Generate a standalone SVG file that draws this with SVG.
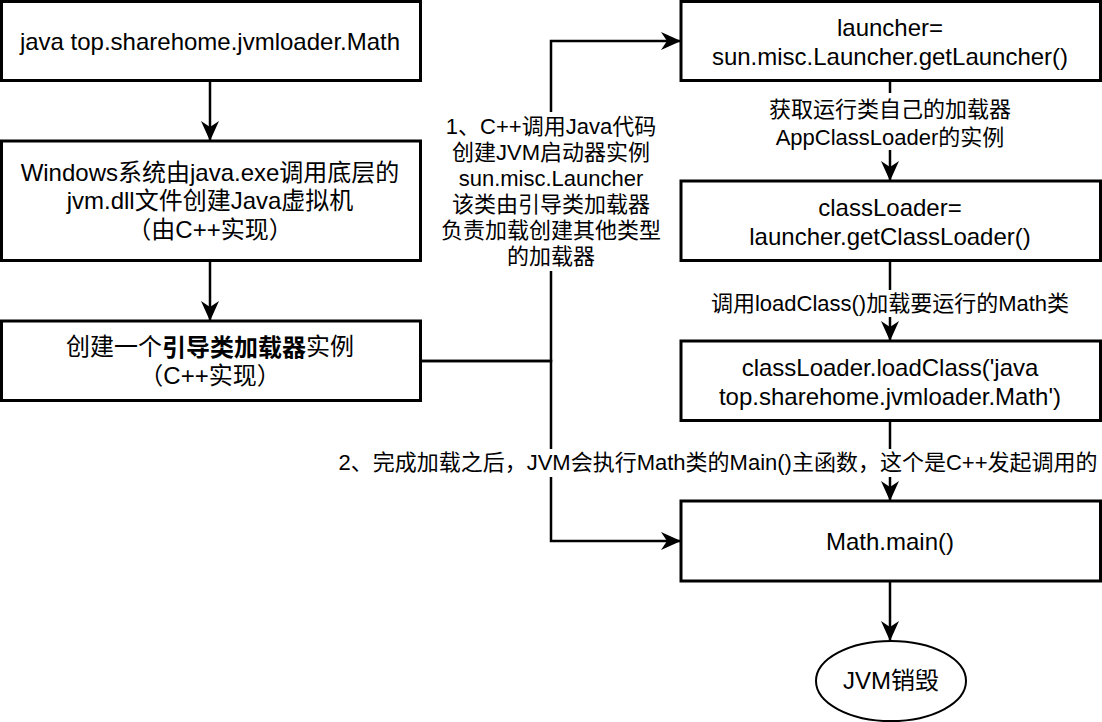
<svg xmlns="http://www.w3.org/2000/svg" width="1102" height="722" viewBox="0 0 1102 722">
<style>
  .box { fill: #ffffff; stroke: #000000; stroke-width: 3; }
  .ell { fill: #ffffff; stroke: #000000; stroke-width: 2; }
  .edge { fill: none; stroke: #000000; stroke-width: 2.5; }
  .t { font-family: "Liberation Sans", Arial, "Noto Sans CJK SC", sans-serif; font-size: 24px; fill: #000000; text-anchor: middle; dominant-baseline: central; }
  .lbl { font-family: "Liberation Sans", Arial, "Noto Sans CJK SC", sans-serif; font-size: 22px; fill: #000000; text-anchor: middle; dominant-baseline: central; }
  .bg { fill: #ffffff; stroke: none; }
  .b { font-weight: bold; }
</style>
<defs>
  <marker id="arr" viewBox="0 0 20 20" markerWidth="20" markerHeight="20" markerUnits="userSpaceOnUse" refX="19" refY="10" orient="auto">
    <path d="M0,1 L20,10 L0,19 L6,10 Z" fill="#000000"/>
  </marker>
</defs>
<rect width="1102" height="722" fill="#ffffff"/>

<g id="connectors">
  <path class="edge" d="M210,80.5 V140" marker-end="url(#arr)"/>
  <path class="edge" d="M210,260.5 V320" marker-end="url(#arr)"/>
  <path class="edge" d="M420.5,361 H551 V41 H680" marker-end="url(#arr)"/>
  <path class="edge" d="M420.5,361 H551 V541 H680" marker-end="url(#arr)"/>
  <path class="edge" d="M890,80.5 V180" marker-end="url(#arr)"/>
  <path class="edge" d="M890,260.5 V340" marker-end="url(#arr)"/>
  <path class="edge" d="M890,420.5 V500" marker-end="url(#arr)"/>
  <path class="edge" d="M890,581 V640" marker-end="url(#arr)"/>

  <g id="label-1">
    <rect class="bg" x="444" y="112" width="214" height="159"/>
    <text class="lbl" x="551" y="126">1、C++调用Java代码</text>
    <text class="lbl" x="551" y="152">创建JVM启动器实例</text>
    <text class="lbl" x="551" y="178">sun.misc.Launcher</text>
    <text class="lbl" x="551" y="204">该类由引导类加载器</text>
    <text class="lbl" x="551" y="230">负责加载创建其他类型</text>
    <text class="lbl" x="551" y="256">的加载器</text>
  </g>
  <g id="label-app">
    <rect class="bg" x="770" y="93" width="240" height="57"/>
    <text class="lbl" x="890" y="109">获取运行类自己的加载器</text>
    <text class="lbl" x="890" y="137">AppClassLoader的实例</text>
  </g>
  <g id="label-load">
    <rect class="bg" x="710" y="290" width="365" height="27"/>
    <text class="lbl" x="890" y="303">调用loadClass()加载要运行的Math类</text>
  </g>
  <g id="label-2">
    <rect class="bg" x="335" y="449" width="767" height="28"/>
    <text class="lbl" x="718" y="462">2、完成加载之后，JVM会执行Math类的Main()主函数，这个是C++发起调用的</text>
  </g>
</g>

<g id="node-cmd">
  <rect class="box" x="1.5" y="1.5" width="419" height="79"/>
  <text class="t" x="210" y="41">java top.sharehome.jvmloader.Math</text>
</g>
<g id="node-jvm">
  <rect class="box" x="1.5" y="141" width="419" height="119.5"/>
  <text class="t" x="210" y="172">Windows系统由java.exe调用底层的</text>
  <text class="t" x="210" y="200">jvm.dll文件创建Java虚拟机</text>
  <text class="t" x="210" y="229">（由C++实现）</text>
</g>
<g id="node-bootstrap">
  <rect class="box" x="1.5" y="321" width="419" height="79.5"/>
  <text class="t" x="210" y="346.5">创建一个<tspan class="b">引导类加载器</tspan>实例</text>
  <text class="t" x="210" y="375">（C++实现）</text>
</g>
<g id="node-launcher">
  <rect class="box" x="681" y="1.5" width="419.5" height="79"/>
  <text class="t" x="890" y="27">launcher=</text>
  <text class="t" x="890" y="56">sun.misc.Launcher.getLauncher()</text>
</g>
<g id="node-classloader">
  <rect class="box" x="681" y="181" width="419.5" height="79.5"/>
  <text class="t" x="890" y="207">classLoader=</text>
  <text class="t" x="890" y="236">launcher.getClassLoader()</text>
</g>
<g id="node-loadclass">
  <rect class="box" x="681" y="341" width="419.5" height="79.5"/>
  <text class="t" x="890" y="367">classLoader.loadClass('java</text>
  <text class="t" x="890" y="396">top.sharehome.jvmloader.Math')</text>
</g>
<g id="node-main">
  <rect class="box" x="681" y="501" width="419.5" height="80"/>
  <text class="t" x="890" y="541">Math.main()</text>
</g>
<g id="node-destroy">
  <ellipse class="ell" cx="891" cy="681" rx="75" ry="40"/>
  <text class="t" x="891" y="680">JVM销毁</text>
</g>
</svg>
